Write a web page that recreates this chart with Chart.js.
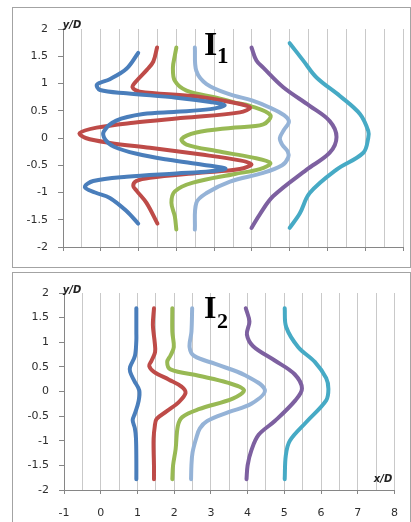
<!DOCTYPE html>
<html>
<head>
<meta charset="utf-8">
<script src="https://cdn.jsdelivr.net/npm/chart.js@4.4.1/dist/chart.umd.min.js"></script>
<style>
  html, body { margin: 0; padding: 0; background: #fff; }
  body { position: relative; width: 411px; height: 522px; overflow: hidden; }
  .frame { position: absolute; border: 1px solid #a3a3a3; box-sizing: border-box; }
  #frame1 { left: 12px; top: 7px; width: 399px; height: 261px; }
  #frame2 { left: 12px; top: 272px; width: 399px; height: 260px; }
  canvas { position: absolute; left: 0; }
  #chart1 { top: 0; }
  #chart2 { top: 268px; }
</style>
</head>
<body>
<div class="frame" id="frame1"></div>
<div class="frame" id="frame2"></div>
<canvas id="chart1" width="411" height="268"></canvas>
<canvas id="chart2" width="411" height="254"></canvas>
<script>
// axis ranges (x/D, y/D)
const xRange = [-1, 8];
const yRange = [-2, 2];
const tickStep = 0.5;

const seriesColors = ['#4A7EBB', '#BE4B48', '#98B954', '#95B3D7', '#7D60A0', '#46AAC5'];

// I1 profiles, [x/D, y/D] pairs
const i1Blue = [[0.99,1.56],[0.68,1.27],[0.24,1.08],[-0.10,0.98],[-0.02,0.88],[0.68,0.82],[2.0,0.74],[2.9,0.66],[3.28,0.60],[2.9,0.53],[2.0,0.48],[1.12,0.44],[0.41,0.32],[0.08,0.12],[0.12,-0.03],[0.35,-0.16],[0.95,-0.29],[1.8,-0.40],[2.7,-0.49],[3.3,-0.56],[2.9,-0.61],[2.0,-0.65],[0.68,-0.71],[-0.20,-0.79],[-0.42,-0.90],[-0.15,-1.00],[0.24,-1.10],[0.68,-1.34],[0.99,-1.57]];
const i1Red = [[1.49,1.66],[1.39,1.40],[1.22,1.25],[0.95,1.05],[0.84,0.93],[1.03,0.85],[2.44,0.77],[3.50,0.65],[3.95,0.56],[3.68,0.47],[2.2,0.37],[0.86,0.28],[-0.11,0.19],[-0.56,0.09],[-0.40,0.0],[0.24,-0.09],[1.30,-0.18],[2.62,-0.30],[3.68,-0.41],[3.99,-0.48],[3.68,-0.57],[2.62,-0.64],[1.30,-0.73],[0.94,-0.79],[0.86,-0.88],[0.95,-0.97],[1.21,-1.19],[1.50,-1.57]];
const i1Green = [[2.0,1.66],[1.96,1.51],[1.91,1.29],[1.96,1.05],[2.27,0.87],[3.06,0.74],[3.55,0.65],[3.95,0.59],[4.49,0.42],[4.30,0.25],[3.50,0.19],[2.53,0.10],[2.14,-0.02],[2.27,-0.12],[3.06,-0.24],[4.03,-0.36],[4.49,-0.46],[4.21,-0.57],[3.55,-0.66],[2.44,-0.82],[1.96,-0.98],[1.87,-1.19],[1.96,-1.44],[2.0,-1.68]];
const i1LightBlue = [[2.49,1.66],[2.53,1.23],[2.80,0.99],[3.42,0.80],[4.0,0.69],[4.47,0.56],[4.85,0.42],[4.98,0.30],[4.85,0.15],[4.74,0.0],[4.80,-0.12],[4.95,-0.25],[4.96,-0.36],[4.80,-0.50],[4.30,-0.64],[3.42,-0.80],[2.80,-1.01],[2.53,-1.19],[2.49,-1.68]];
const i1Purple = [[3.99,1.66],[4.12,1.42],[4.30,1.29],[4.83,0.93],[5.53,0.59],[6.06,0.31],[6.24,0.02],[6.06,-0.27],[5.45,-0.58],[4.56,-1.07],[4.21,-1.40],[3.99,-1.65]];
const i1Teal = [[5.0,1.74],[5.36,1.42],[5.71,1.11],[6.33,0.77],[6.86,0.44],[7.08,0.13],[7.08,0.0],[6.95,-0.27],[6.24,-0.58],[5.53,-1.01],[5.27,-1.38],[5.0,-1.65]];

// I2 profiles
const i2Blue = [[0.97,1.69],[0.97,1.20],[0.97,1.04],[0.93,0.72],[0.80,0.50],[0.80,0.40],[0.91,0.22],[1.05,0.02],[1.03,-0.20],[0.93,-0.45],[0.87,-0.58],[0.93,-0.75],[0.96,-0.95],[0.97,-1.40],[0.97,-1.78]];
const i2Red = [[1.45,1.69],[1.42,1.35],[1.47,1.00],[1.48,0.80],[1.38,0.62],[1.32,0.52],[1.45,0.40],[1.86,0.24],[2.20,0.10],[2.31,-0.03],[2.12,-0.22],[1.80,-0.40],[1.52,-0.56],[1.47,-0.72],[1.44,-0.95],[1.44,-1.20],[1.45,-1.50],[1.45,-1.78]];
const i2Green = [[1.95,1.69],[1.95,1.21],[1.99,0.90],[1.90,0.73],[1.81,0.60],[1.90,0.45],[2.67,0.32],[3.45,0.18],[3.90,0.03],[3.61,-0.14],[2.67,-0.36],[2.22,-0.52],[2.10,-0.70],[2.04,-1.17],[1.97,-1.50],[1.95,-1.78]];
const i2LightBlue = [[2.49,1.69],[2.47,1.21],[2.42,0.90],[2.55,0.72],[3.12,0.56],[3.93,0.33],[4.47,0.03],[4.10,-0.25],[3.48,-0.42],[2.90,-0.60],[2.70,-0.75],[2.60,-0.95],[2.50,-1.24],[2.47,-1.50],[2.46,-1.78]];
const i2Purple = [[3.95,1.69],[4.05,1.42],[3.98,1.16],[4.15,0.92],[4.74,0.63],[5.28,0.35],[5.48,0.06],[5.30,-0.18],[4.74,-0.60],[4.30,-0.88],[4.10,-1.20],[4.00,-1.50],[3.97,-1.78]];
const i2Teal = [[5.01,1.69],[5.05,1.31],[5.38,0.90],[5.83,0.60],[6.14,0.27],[6.20,0.05],[6.14,-0.18],[5.60,-0.62],[5.15,-1.00],[5.04,-1.30],[5.01,-1.78]];

const tickFont = { family: 'DejaVu Sans', size: 11 };
const tickColor = '#2e2e2e';
const axisColor = '#868686';
const gridColor = '#c9c9c9';

// draws the loose labels (panel name, axis names)
const textMarks = {
  id: 'textMarks',
  afterDraw(chart, args, opts) {
    const ctx = chart.ctx;
    ctx.save();
    for (const t of opts.items || []) {
      ctx.font = t.font;
      ctx.fillStyle = t.color || '#000';
      ctx.textAlign = t.align || 'left';
      ctx.textBaseline = t.baseline || 'alphabetic';
      ctx.fillText(t.text, t.x, t.y);
    }
    ctx.restore();
  }
};

function toDataset(points, i) {
  return {
    label: 'series ' + (i + 1),
    data: points.map(p => ({ x: p[0], y: p[1] })),
    borderColor: seriesColors[i],
    backgroundColor: seriesColors[i],
    showLine: true,
    borderWidth: 4,
    pointRadius: 0,
    tension: 0.35,
    borderCapStyle: 'round',
    borderJoinStyle: 'round'
  };
}

function buildChart(id, series, opts) {
  return new Chart(document.getElementById(id), {
    type: 'scatter',
    data: { datasets: series.map(toDataset) },
    options: {
      responsive: false,
      animation: false,
      layout: { padding: opts.padding },
      plugins: {
        legend: { display: false },
        tooltip: { enabled: false },
        textMarks: { items: opts.texts }
      },
      scales: {
        x: {
          type: 'linear',
          min: xRange[0],
          max: xRange[1],
          ticks: {
            stepSize: tickStep,
            autoSkip: false,
            maxRotation: 0,
            padding: opts.xTickPadding,
            font: tickFont,
            color: tickColor,
            callback: v => (opts.showX && Number.isInteger(v)) ? String(v) : ''
          },
          grid: {
            color: c => (c.tick && c.tick.value === xRange[0]) ? 'transparent' : gridColor,
            tickColor: c => (c.tick && Number.isInteger(c.tick.value)) ? axisColor : 'transparent',
            tickLength: 4,
            lineWidth: 1
          },
          border: { color: axisColor },
          afterFit: s => { s.height = opts.xAxisHeight; }
        },
        y: {
          type: 'linear',
          min: yRange[0],
          max: yRange[1],
          ticks: {
            stepSize: tickStep,
            padding: 10,
            font: tickFont,
            color: tickColor,
            callback: v => String(v)
          },
          grid: { drawOnChartArea: false, tickLength: 5, tickColor: axisColor },
          border: { color: axisColor },
          afterFit: s => { s.width = opts.yAxisWidth; }
        }
      }
    },
    plugins: [textMarks]
  });
}

const axisNameFont = 'italic bold 10px "DejaVu Sans"';

buildChart('chart1', [i1Blue, i1Red, i1Green, i1LightBlue, i1Purple, i1Teal], {
  padding: { top: 29, right: 8, left: 0, bottom: 0 },
  yAxisWidth: 63,
  xAxisHeight: 21,
  xTickPadding: 4,
  showX: false,
  texts: [
    { text: 'y/D', x: 72, y: 25, font: axisNameFont, align: 'center', baseline: 'middle', color: '#222' },
    { text: 'I', x: 204, y: 55, font: 'bold 34px "Liberation Serif"' },
    { text: '1', x: 217, y: 63, font: 'bold 23px "Liberation Serif"' }
  ]
});

buildChart('chart2', [i2Blue, i2Red, i2Green, i2LightBlue, i2Purple, i2Teal], {
  padding: { top: 25, right: 13, left: 0, bottom: 0 },
  yAxisWidth: 64,
  xAxisHeight: 32,
  xTickPadding: 13,
  showX: true,
  texts: [
    { text: 'y/D', x: 72, y: 22, font: axisNameFont, align: 'center', baseline: 'middle', color: '#222' },
    { text: 'I', x: 204, y: 50, font: 'bold 32px "Liberation Serif"' },
    { text: '2', x: 217, y: 60, font: 'bold 22px "Liberation Serif"' },
    { text: 'x/D', x: 383, y: 211, font: axisNameFont, align: 'center', baseline: 'middle', color: '#222' }
  ]
});
</script>
</body>
</html>
